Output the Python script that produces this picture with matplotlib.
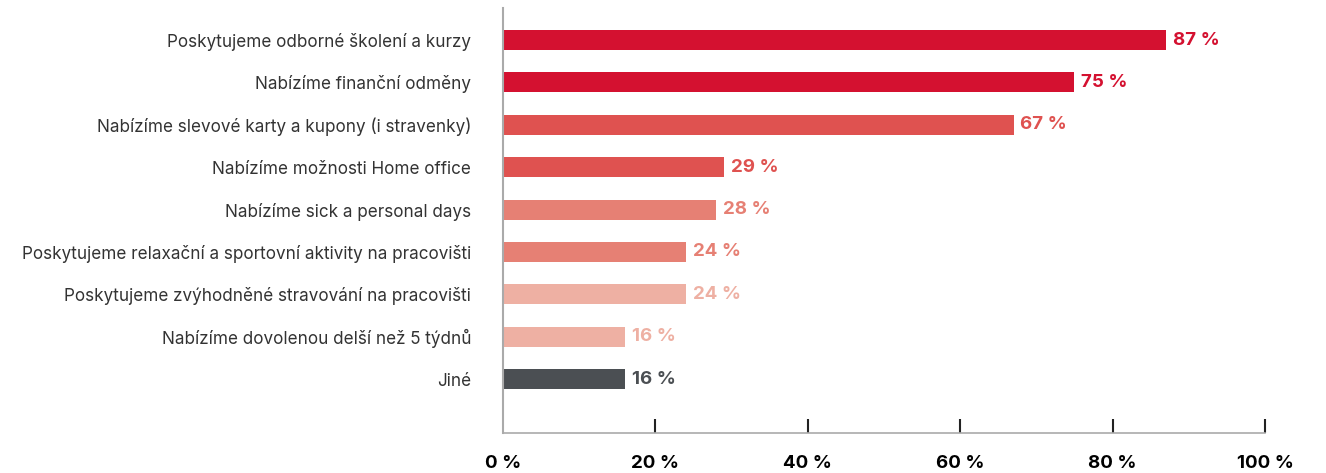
import matplotlib.pyplot as plt
import numpy as np

# Data
kategorie = [
    "Poskytujeme odborné školení a kurzy",
    "Nabízíme finanční odměny",
    "Nabízíme slevové karty a kupony (i stravenky)",
    "Nabízíme možnosti Home office",
    "Nabízíme sick a personal days",
    "Poskytujeme relaxační a sportovní aktivity na pracovišti",
    "Poskytujeme zvýhodněné stravování na pracovišti",
    "Nabízíme dovolenou delší než 5 týdnů",
    "Jiné",
]
hodnoty = [87, 75, 67, 29, 28, 24, 24, 16, 16]
barvy = ["#D41130", "#D41130", "#DF5250", "#DF5250", "#E68074",
         "#E68074", "#EEB0A3", "#EEB0A3", "#4B4F53"]
x_ticks = [0, 20, 40, 60, 80, 100]

plt.rcParams['font.family'] = ['Inter', 'DejaVu Sans']

fig = plt.figure(figsize=(13.26, 4.73), dpi=100)
ax = fig.add_axes([0.3793, 0.0846, 0.5747, 0.8985])

y = np.arange(len(kategorie))
ax.barh(y, hodnoty, height=0.47, color=barvy)

for yi, v, c in zip(y, hodnoty, barvy):
    ax.text(v + 0.9, yi, f"{v} %", va='center', ha='left', color=c,
            fontsize=13.5, fontweight='bold')

ax.set_xlim(0, 100)
ax.set_ylim(9.27, -0.755)
ax.set_yticks(y)
ax.set_yticklabels(kategorie, fontsize=12.3, color="#333333")
ax.tick_params(axis='y', length=0, pad=23)

ax.set_xticks(x_ticks)
ax.set_xticklabels([f"{t} %" for t in x_ticks], fontsize=13.5, fontweight='bold')
ax.tick_params(axis='x', direction='in', length=10, width=1.5, color="#222222", pad=16)
ax.xaxis.get_major_ticks()[0].tick1line.set_visible(False)

for s in ['top', 'right']:
    ax.spines[s].set_visible(False)
ax.spines['left'].set_color("#AAAAAA")
ax.spines['bottom'].set_color("#AAAAAA")
ax.spines['left'].set_linewidth(1.5)
ax.spines['bottom'].set_linewidth(1.2)

fig.savefig("out.png", dpi=100)
